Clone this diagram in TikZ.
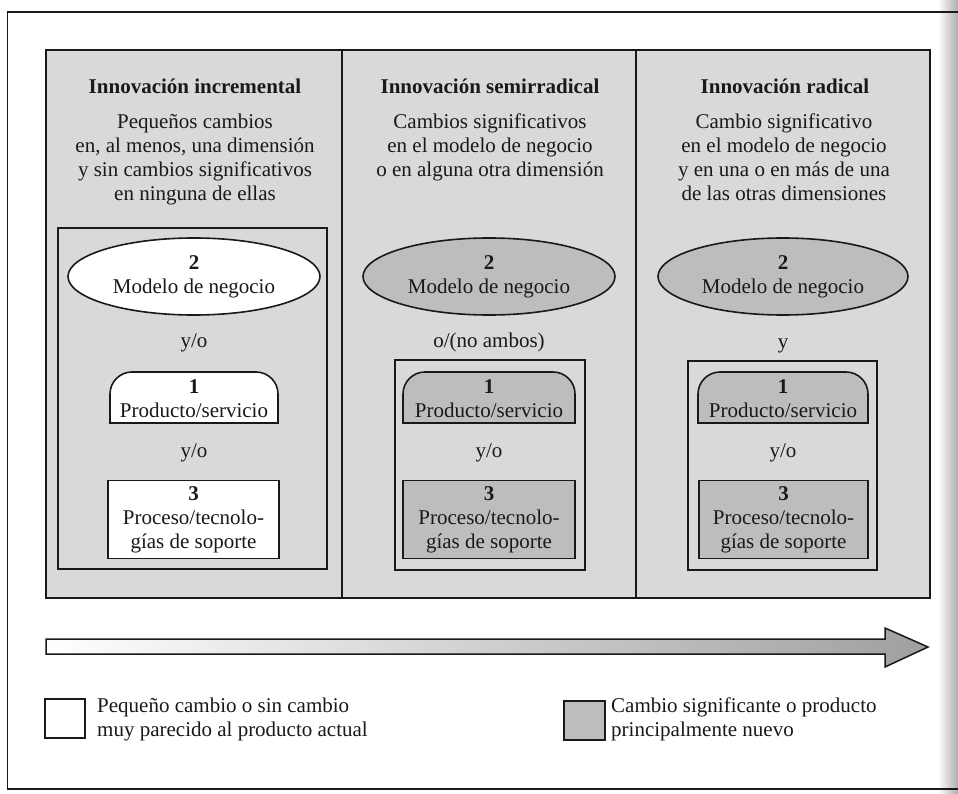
\documentclass[tikz,border=0pt]{standalone}
\usepackage{fontspec}
\setmainfont{Liberation Serif}
\usetikzlibrary{shapes.geometric}
\definecolor{panelbg}{gray}{0.85}
\definecolor{changed}{gray}{0.74}
\definecolor{ink}{gray}{0.1}
% tab with rounded top corners for the product/service dimension
\newcommand\prodtab[3]{%
  \draw[boxline, fill=#3] (#1,423) -- (#1,394)
    arc[start angle=180, end angle=270, radius=22] -- (#2-22,372)
    arc[start angle=270, end angle=360, radius=22] -- (#2,423) -- cycle;}
\begin{document}
\begin{tikzpicture}[x=1pt, y=-1pt,
  every node/.style={inner sep=0pt, text=ink, font=\fontsize{21}{24}\selectfont},
  panelline/.style={draw=ink, line width=1.5pt},
  boxline/.style={draw=ink, line width=1.6pt},
  modelo/.style={ellipse, boxline, minimum width=252pt, minimum height=77pt, align=center},
  proceso/.style={rectangle, boxline, minimum height=78pt, align=center},
  ttl/.style={anchor=base, font=\fontsize{21}{24}\selectfont\bfseries},
  desc/.style={anchor=north, align=center},
  conj/.style={anchor=base},
  legtext/.style={anchor=north west, align=left}
]
\useasboundingbox (0,0) rectangle (958,794);
\fill[white] (0,0) rectangle (958,794);
% page shadow along the right edge
\shade[left color=white, right color=black!32] (938,0) rectangle (958,794);

% outer frame
\draw[boxline, line width=1.8pt] (958,12) -- (7.5,12) -- (7.5,789) -- (958,789);

% panel with three columns
\fill[panelbg] (46,50) rectangle (930,598);
\draw[panelline] (46,50) rectangle (930,598);
\draw[panelline] (342,50) -- (342,598);
\draw[panelline] (636,50) -- (636,598);

% column headings
\node[ttl] (t1) at (195,94) {Innovación incremental};
\node[ttl] (t2) at (490,94) {Innovación semirradical};
\node[ttl] (t3) at (785,94) {Innovación radical};

\node[desc] (d1) at (195,114) {Pequeños cambios\\en, al menos, una dimensión\\y sin cambios significativos\\en ninguna de ellas};
\node[desc] (d2) at (490,114) {Cambios significativos\\en el modelo de negocio\\o en alguna otra dimensión};
\node[desc] (d3) at (784,114) {Cambio significativo\\en el modelo de negocio\\y en una o en más de una\\de las otras dimensiones};

% inner frames
\draw[boxline] (58,228) rectangle (327,569);
\draw[boxline] (395,360) rectangle (585,570);
\draw[boxline] (688,361) rectangle (877,570);

% business model ellipses
\node[modelo, fill=white]   (m1) at (194,276.5) {\textbf{2}\\Modelo de negocio};
\node[modelo, fill=changed] (m2) at (489,276.5) {\textbf{2}\\Modelo de negocio};
\node[modelo, fill=changed, minimum width=250pt] (m3) at (783,276.5) {\textbf{2}\\Modelo de negocio};

\node[conj] (c1) at (194,347) {y/o};
\node[conj] (c2) at (489,347) {o/(no ambos)};
\node[conj] (c3) at (783,348) {y};

% product/service tabs
\prodtab{110}{278}{white}
\prodtab{403}{575}{changed}
\prodtab{698}{868}{changed}
\node[align=center] (p1) at (194,399) {\textbf{1}\\Producto/servicio};
\node[align=center] (p2) at (489,399) {\textbf{1}\\Producto/servicio};
\node[align=center] (p3) at (783,399) {\textbf{1}\\Producto/servicio};

\node[conj] (e1) at (194,457) {y/o};
\node[conj] (e2) at (489,457) {y/o};
\node[conj] (e3) at (783,457) {y/o};

% process/technology boxes
\node[proceso, fill=white,   minimum width=171pt] (r1) at (193.5,519.5) {\textbf{3}\\Proceso/tecnolo-\\gías de soporte};
\node[proceso, fill=changed, minimum width=172pt] (r2) at (489,519.5) {\textbf{3}\\Proceso/tecnolo-\\gías de soporte};
\node[proceso, fill=changed, minimum width=169pt] (r3) at (783.5,519.5) {\textbf{3}\\Proceso/tecnolo-\\gías de soporte};

% progression arrow
\draw[boxline, line width=1.5pt, left color=white, right color=gray!75]
  (46,639) -- (885,639) -- (885,628) -- (928,647) -- (885,667) -- (885,654) -- (46,654) -- cycle;

% legend
\node[rectangle, boxline, fill=white, minimum width=40pt, minimum height=39pt] (l1) at (65,718.5) {};
\node[legtext] (lt1) at (97,698) {Pequeño cambio o sin cambio\\muy parecido al producto actual};
\node[rectangle, boxline, fill=changed, minimum width=41pt, minimum height=39pt] (l2) at (584.5,720.5) {};
\node[legtext] (lt2) at (611,698) {Cambio significante o producto\\principalmente nuevo};
\end{tikzpicture}
\end{document}
